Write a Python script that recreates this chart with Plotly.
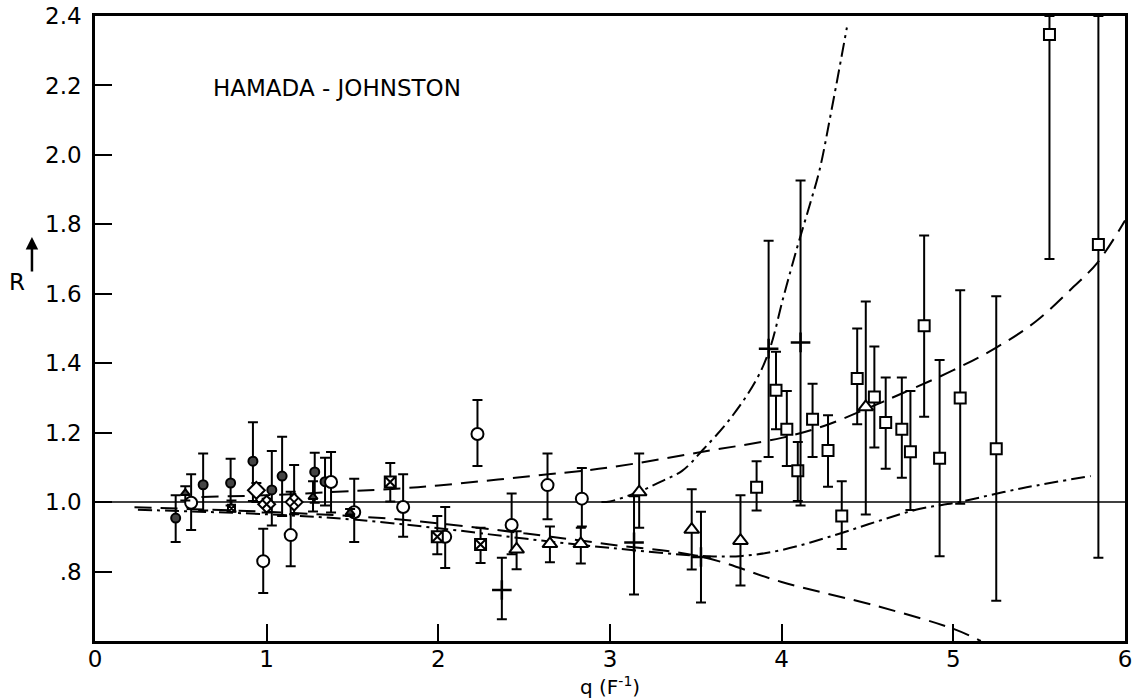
import plotly.graph_objects as go

# ---------------- data ----------------
# small filled circles
fc_q = [0.47, 0.63, 0.79, 0.92, 1.03, 1.09, 1.28, 1.34]
fc_R = [0.954, 1.05, 1.055, 1.118, 1.035, 1.075, 1.087, 1.059]
fc_lo = [0.885, 0.976, 0.99, 1.003, 0.933, 0.96, 0.998, 0.99]
fc_hi = [1.02, 1.14, 1.125, 1.23, 1.147, 1.188, 1.142, 1.128]

# open circles
oc_q = [0.56, 0.98, 1.14, 1.375, 1.51, 1.795, 2.04, 2.228, 2.427, 2.636, 2.836]
oc_R = [0.998, 0.83, 0.905, 1.058, 0.971, 0.986, 0.90, 1.196, 0.934, 1.049, 1.01]
oc_lo = [0.92, 0.738, 0.815, 0.97, 0.885, 0.90, 0.81, 1.104, 0.85, 0.951, 0.93]
oc_hi = [1.08, 0.923, 1.03, 1.144, 1.067, 1.08, 0.986, 1.294, 1.025, 1.14, 1.098]

# open diamonds
od_q = [0.94]
od_R = [1.034]
od_lo = [1.0]
od_hi = [1.055]

# hatched diamonds
hd_q = [1.0, 1.16]
hd_R = [0.994, 1.0]
hd_lo = [0.97, 0.965]
hd_hi = [1.01, 1.107]

# small filled triangles
ft_q = [0.526, 1.27, 1.486]
ft_R = [1.026, 1.015, 0.97]
ft_lo = [1.005, 0.973, 0.96]
ft_hi = [1.046, 1.06, 0.98]

# small hatched square
hs_q = [0.795]
hs_R = [0.982]
hs_lo = [0.973]
hs_hi = [1.005]

# crossed squares
xs_q = [1.72, 1.994, 2.246]
xs_R = [1.058, 0.90, 0.878]
xs_lo = [1.002, 0.85, 0.825]
xs_hi = [1.113, 0.96, 0.926]

# open triangles
ot_q = [2.456, 2.65, 2.83, 3.17, 3.476, 3.76, 4.49]
ot_R = [0.864, 0.88, 0.88, 1.029, 0.921, 0.889, 1.274]
ot_lo = [0.807, 0.827, 0.823, 0.926, 0.806, 0.76, 0.964]
ot_hi = [0.916, 0.93, 0.926, 1.14, 1.037, 1.02, 1.578]

# plus signs
pl_q = [2.37, 3.14, 3.53, 3.924, 4.11]
pl_R = [0.747, 0.884, 0.842, 1.442, 1.46]
pl_lo = [0.663, 0.734, 0.711, 1.13, 0.99]
pl_hi = [0.84, 1.017, 0.972, 1.753, 1.926]

# open squares
os_q = [3.854, 3.967, 4.03, 4.094, 4.18, 4.27, 4.35, 4.44, 4.54, 4.606,
        4.70, 4.75, 4.83, 4.92, 5.04, 5.25, 5.56, 5.845]
os_R = [1.043, 1.322, 1.21, 1.09, 1.239, 1.149, 0.96, 1.356, 1.303, 1.229,
        1.21, 1.145, 1.508, 1.126, 1.30, 1.154, 2.347, 1.742]
os_lo = [0.976, 1.21, 1.104, 1.003, 1.13, 1.044, 0.865, 1.224, 1.157, 1.096,
         1.07, 0.977, 1.246, 0.844, 0.995, 0.716, 1.70, 0.84]
os_hi = [1.118, 1.433, 1.32, 1.173, 1.341, 1.25, 1.06, 1.50, 1.448, 1.359,
         1.359, 1.32, 1.768, 1.409, 1.61, 1.593, 2.4, 2.4]

# theory curves
up_q = [0.62, 1.0, 1.5, 1.8, 2.0, 2.64, 3.0, 3.54, 4.0, 4.25, 4.5, 4.71, 5.0, 5.25, 5.48, 5.7, 5.84, 6.0]
up_R = [1.015, 1.02, 1.032, 1.04, 1.048, 1.08, 1.10, 1.145, 1.185, 1.22, 1.27, 1.315, 1.38, 1.445, 1.52, 1.62, 1.69, 1.811]

dn_q = [0.23, 1.0, 1.67, 2.05, 2.5, 3.0, 3.54, 4.0, 4.56, 5.0, 5.16]
dn_R = [0.985, 0.972, 0.954, 0.936, 0.91, 0.878, 0.842, 0.77, 0.70, 0.635, 0.6]

dd_q = [0.25, 1.0, 1.5, 2.05, 2.5, 3.0, 3.54, 3.77, 4.0, 4.31, 4.56, 4.80, 5.03, 5.4, 5.80]
dd_R = [0.978, 0.965, 0.95, 0.922, 0.895, 0.868, 0.845, 0.845, 0.862, 0.905, 0.945, 0.98, 1.0, 1.04, 1.075]

st_q = [2.95, 3.0, 3.17, 3.3, 3.42, 3.54, 3.7, 3.85, 3.93, 4.01, 4.09, 4.16, 4.22, 4.29, 4.38]
st_R = [1.0, 1.002, 1.03, 1.06, 1.09, 1.15, 1.24, 1.35, 1.44, 1.59, 1.733, 1.85, 1.955, 2.128, 2.367]

ref_q = [0.0, 6.0]
ref_R = [1.0, 1.0]

x_ticks = [0, 1, 2, 3, 4, 5, 6]
x_labels = ["0", "1", "2", "3", "4", "5", "6"]
y_ticks = [0.8, 1.0, 1.2, 1.4, 1.6, 1.8, 2.0, 2.2, 2.4]
y_labels = [".8", "1.0", "1.2", "1.4", "1.6", "1.8", "2.0", "2.2", "2.4"]

FONT = "DejaVu Sans"

fig = go.Figure()

# reference line and theory curves
fig.add_trace(go.Scatter(x=ref_q, y=ref_R, mode="lines",
                         line=dict(color="black", width=1.5)))
fig.add_trace(go.Scatter(x=up_q, y=up_R, mode="lines", line_shape="spline",
                         line=dict(color="black", width=2, dash="17px,9px")))
fig.add_trace(go.Scatter(x=dn_q, y=dn_R, mode="lines", line_shape="spline",
                         line=dict(color="black", width=2, dash="17px,9px")))
fig.add_trace(go.Scatter(x=dd_q, y=dd_R, mode="lines", line_shape="spline",
                         line=dict(color="black", width=2, dash="14px,5px,3px,5px")))
fig.add_trace(go.Scatter(x=st_q, y=st_R, mode="lines", line_shape="spline",
                         line=dict(color="black", width=2, dash="14px,5px,3px,5px")))


def pts(q, R, lo, hi, symbol, size, fill, lw=2):
    fig.add_trace(go.Scatter(
        x=q, y=R, mode="markers",
        marker=dict(symbol=symbol, size=size, color=fill,
                    line=dict(color="black", width=lw)),
        error_y=dict(type="data", symmetric=False,
                     array=[h - r for h, r in zip(hi, R)],
                     arrayminus=[r - l for r, l in zip(R, lo)],
                     color="black", thickness=2, width=5),
    ))


pts(fc_q, fc_R, fc_lo, fc_hi, "circle", 9, "#444444")
pts(oc_q, oc_R, oc_lo, oc_hi, "circle", 12, "white")
pts(od_q, od_R, od_lo, od_hi, "diamond", 13, "white")
pts(hd_q, hd_R, hd_lo, hd_hi, "diamond-x", 13, "white")
pts(ft_q, ft_R, ft_lo, ft_hi, "triangle-up", 8, "#444444")
pts(hs_q, hs_R, hs_lo, hs_hi, "square-x", 7, "white")
pts(xs_q, xs_R, xs_lo, xs_hi, "square-x", 11, "white")
pts(ot_q, ot_R, ot_lo, ot_hi, "triangle-up", 13, "white")
pts(os_q, os_R, os_lo, os_hi, "square", 11, "white")

# plus signs
fig.add_trace(go.Scatter(
    x=pl_q, y=pl_R, mode="markers",
    marker=dict(symbol="cross-thin", size=14, color="black",
                line=dict(color="black", width=2.5)),
    error_y=dict(type="data", symmetric=False,
                 array=[h - r for h, r in zip(pl_hi, pl_R)],
                 arrayminus=[r - l for r, l in zip(pl_R, pl_lo)],
                 color="black", thickness=2, width=5),
))

fig.update_layout(
    width=1133, height=700,
    margin=dict(l=95, r=8, t=16, b=59, autoexpand=False),
    paper_bgcolor="white", plot_bgcolor="white",
    showlegend=False,
    font=dict(family=FONT, color="black", size=22),
    xaxis=dict(range=[0, 6], tickvals=x_ticks, ticktext=x_labels,
               ticks="inside", ticklen=17, tickwidth=2, tickcolor="black",
               showline=True, linecolor="black", linewidth=2.5, mirror=True,
               showgrid=False, zeroline=False, automargin=False,
               ticklabeloverflow="allow",
               tickfont=dict(family=FONT, size=23, color="black"),
               ticklabelstandoff=-4),
    yaxis=dict(range=[0.6, 2.4], tickvals=y_ticks, ticktext=y_labels,
               ticks="inside", ticklen=17, tickwidth=2, tickcolor="black",
               showline=True, linecolor="black", linewidth=2.5, mirror=True,
               showgrid=False, zeroline=False, automargin=False,
               ticklabeloverflow="allow",
               tickfont=dict(family=FONT, size=23, color="black"),
               ticklabelstandoff=6),
    annotations=[
        dict(x=0.676, y=2.192, xref="x", yref="y", text="HAMADA - JOHNSTON",
             showarrow=False, xanchor="left", yanchor="middle",
             font=dict(family=FONT, size=23, color="black")),
        dict(x=3.0, y=-0.0715, xref="x", yref="paper",
             text="q (F<sup>-1</sup>)", showarrow=False,
             xanchor="center", yanchor="middle",
             font=dict(family=FONT, size=20, color="black")),
        dict(x=-0.076, y=0.5744, xref="paper", yref="paper", text="R",
             showarrow=False, xanchor="center", yanchor="middle",
             font=dict(family=FONT, size=23, color="black")),
        dict(x=-0.0612, y=0.6464, xref="paper", yref="paper", text="",
             showarrow=True, ax=0, ay=36, arrowhead=2, arrowsize=1,
             arrowwidth=2.5, arrowcolor="black"),
    ],
)

# remove the page's default body margin so the figure sits at the window's corner
fig.write_html("out.html",
               config={"displayModeBar": False},
               post_script="document.body.style.margin='0';document.body.style.overflow='hidden';")
